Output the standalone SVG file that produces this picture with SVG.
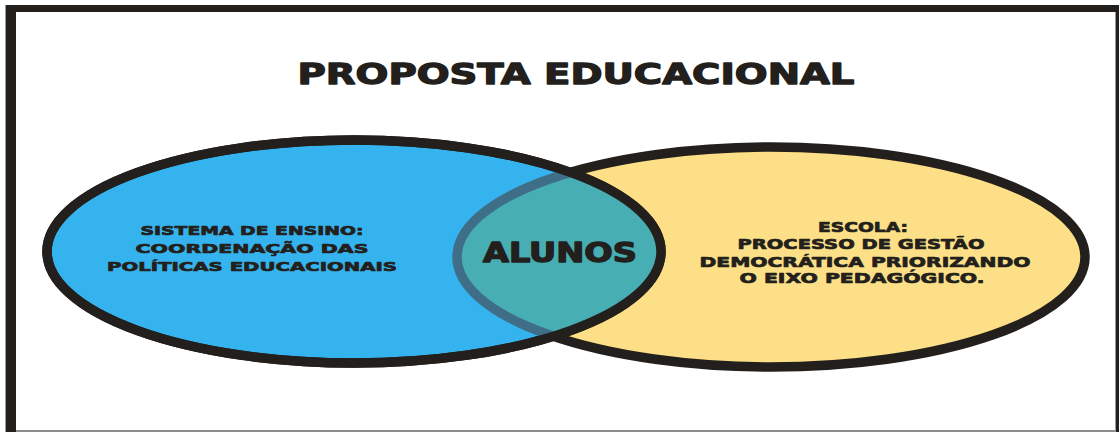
<svg xmlns="http://www.w3.org/2000/svg" width="1119" height="432" viewBox="0 0 1119 432">
  <style>
    .t { font-family: "DejaVu Sans", "Liberation Sans", sans-serif; font-weight: bold; fill: #231F1C; text-anchor: middle; stroke: #231F1C; stroke-width: 0.7; stroke-linejoin: round; }
    .big { stroke-width: 1.3; }
    .edge { fill: none; stroke: #231F1C; stroke-width: 9.5; }
  </style>
  <defs>
    <clipPath id="clipLeft">
      <ellipse cx="354" cy="251.5" rx="307" ry="111.5"/>
    </clipPath>
  </defs>
  <rect x="0" y="0" width="1119" height="432" fill="#ffffff"/>
  <g id="frame">
    <rect x="5" y="5" width="1114" height="7" fill="#231F1C"/>
    <rect x="5" y="5" width="1" height="427" fill="#9a9a9a"/>
    <rect x="6" y="5" width="10" height="427" fill="#231F1C"/>
    <rect x="1115" y="12" width="1" height="420" fill="#9a9a9a"/>
    <rect x="1116" y="5" width="3" height="427" fill="#231F1C"/>
    <rect x="16" y="430" width="1099" height="2" fill="#8c8c8c"/>
  </g>
  <g id="title">
    <text class="t big" x="576" y="84" font-size="29" textLength="557" lengthAdjust="spacingAndGlyphs">PROPOSTA EDUCACIONAL</text>
  </g>
  <g id="node-escola">
    <ellipse cx="771" cy="257" rx="314" ry="110" class="edge" style="fill:#FCDF86"/>
  </g>
  <g id="node-sistema">
    <ellipse cx="354" cy="251.5" rx="307" ry="111.5" class="edge" style="fill:#35B3EE"/>
  </g>
  <g id="node-alunos">
    <g clip-path="url(#clipLeft)">
      <ellipse cx="771" cy="257" rx="314" ry="110" fill="#47AEB4" stroke="#3F6E88" stroke-width="9.5"/>
    </g>
    <ellipse cx="354" cy="251.5" rx="307" ry="111.5" class="edge"/>
    <text class="t big" x="560" y="262" font-size="26" textLength="154" lengthAdjust="spacingAndGlyphs">ALUNOS</text>
  </g>
  <g id="label-sistema">
    <text class="t" x="252" y="235" font-size="13" textLength="223" lengthAdjust="spacingAndGlyphs">SISTEMA DE ENSINO:</text>
    <text class="t" x="252" y="253" font-size="13" textLength="233" lengthAdjust="spacingAndGlyphs">COORDENAÇÃO DAS</text>
    <text class="t" x="252" y="271" font-size="13" textLength="290" lengthAdjust="spacingAndGlyphs">POLÍTICAS EDUCACIONAIS</text>
  </g>
  <g id="label-escola">
    <text class="t" x="863" y="232" font-size="14" textLength="90" lengthAdjust="spacingAndGlyphs">ESCOLA:</text>
    <text class="t" x="861" y="249" font-size="14" textLength="247" lengthAdjust="spacingAndGlyphs">PROCESSO DE GESTÃO</text>
    <text class="t" x="865" y="266.5" font-size="14" textLength="331" lengthAdjust="spacingAndGlyphs">DEMOCRÁTICA PRIORIZANDO</text>
    <text class="t" x="862" y="283" font-size="14" textLength="245" lengthAdjust="spacingAndGlyphs">O EIXO PEDAGÓGICO.</text>
  </g>
  <g id="connectors"/>
</svg>
